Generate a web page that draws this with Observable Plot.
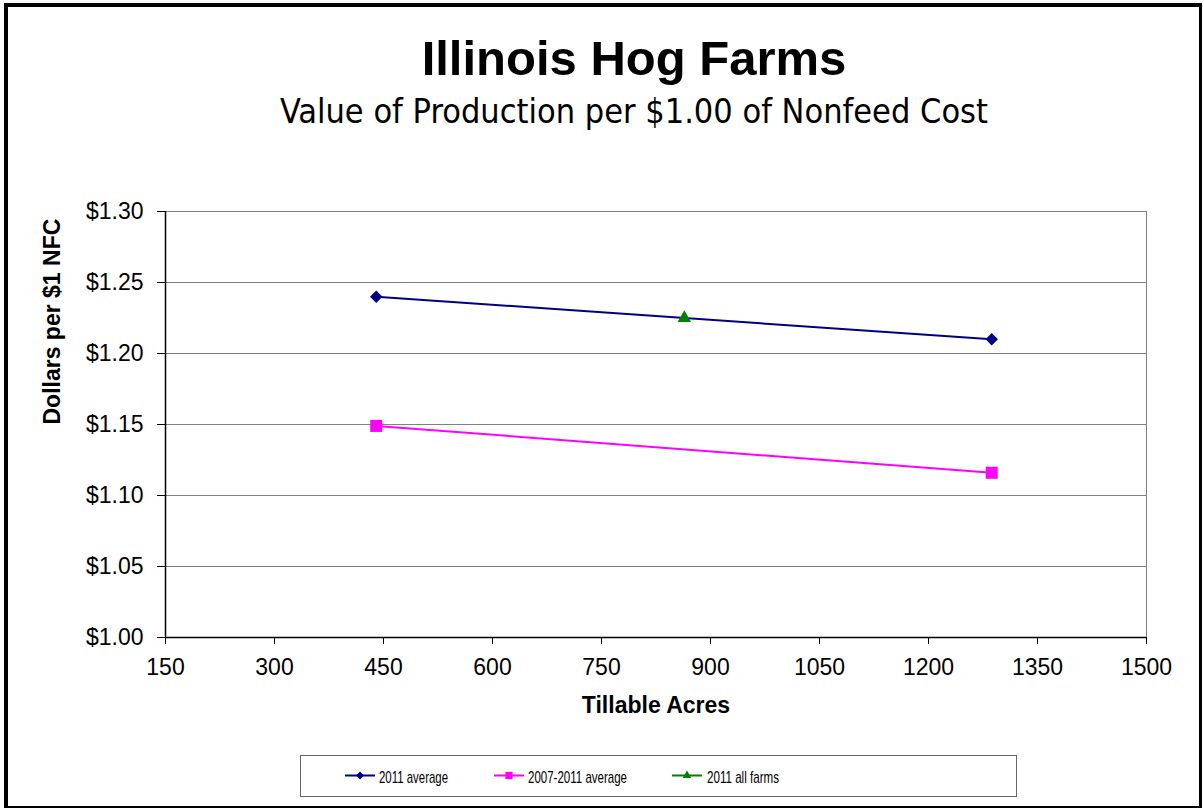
<!DOCTYPE html>
<html><head><meta charset="utf-8">
<script src="https://cdn.jsdelivr.net/npm/d3@7"></script>
<script src="https://cdn.jsdelivr.net/npm/@observablehq/plot@0.6"></script>
<style>
body{margin:0;background:#fff;}
#wrap{position:relative;width:1203px;height:808px;overflow:hidden;background:#fff;font-family:"Liberation Sans",Arial,sans-serif;}
#wrap > svg{position:absolute;left:0;top:0;}
#frame{position:absolute;left:4px;top:3px;width:1198px;height:805px;box-sizing:border-box;border-style:solid;border-color:#000;border-width:4px 3px 2px 4px;pointer-events:none;}
</style></head>
<body>
<div id="wrap"><div id="frame"></div></div>
<script>
const title = "Illinois Hog Farms";
const subtitle = "Value of Production per $1.00 of Nonfeed Cost";
const xLabel = "Tillable Acres";
const yLabel = "Dollars per $1 NFC";

const seriesNames = ["2011 average", "2007-2011 average", "2011 all farms"];
const seriesColors = ["#000080", "#FF00FF", "#008000"];

const acres2011 = [440, 1287];
const value2011 = [1.240, 1.210];
const acres0711 = [440, 1287];
const value0711 = [1.149, 1.116];
const acresAll = [864];
const valueAll = [1.225];

const xTicks = [150, 300, 450, 600, 750, 900, 1050, 1200, 1350, 1500];
const yTicks = [1.00, 1.05, 1.10, 1.15, 1.20, 1.25, 1.30];

const toRows = (xs, ys) => xs.map((a, i) => ({acres: a, value: ys[i]}));
const s2011 = toRows(acres2011, value2011);
const s0711 = toRows(acres0711, value0711);
const sAll = toRows(acresAll, valueAll);

const chart = Plot.plot({
  width: 1203, height: 808,
  marginLeft: 165, marginRight: 57, marginTop: 211, marginBottom: 171,
  style: {fontFamily: "Liberation Sans, Arial, sans-serif", fontSize: "23px", color: "#000", background: "transparent"},
  x: {domain: [150, 1500]},
  y: {domain: [1.0, 1.3]},
  marks: [
    Plot.gridY(yTicks.slice(1), {stroke: "#808080", strokeOpacity: 1, strokeWidth: 1}),
    Plot.ruleX([1500], {stroke: "#808080", strokeWidth: 1}),
    Plot.axisY(yTicks, {tickSize: 8, tickPadding: 14, tickFormat: d => "$" + d.toFixed(2), fontSize: 23, label: null, stroke: "#000"}),
    Plot.axisX(xTicks, {tickSize: 7, tickPadding: 14, tickFormat: d => String(d), fontSize: 23, label: null, stroke: "#000"}),
    Plot.ruleX([150], {stroke: "#000", strokeWidth: 1.5}),
    Plot.ruleY([1.0], {stroke: "#000", strokeWidth: 1.5}),
    Plot.text([yLabel], {frameAnchor: "left", dx: -113, rotate: -90, fontWeight: "bold", fontSize: 23}),
    Plot.text([xLabel], {frameAnchor: "bottom", dy: 75, fontWeight: "bold", fontSize: 23}),
    Plot.line(s2011, {x: "acres", y: "value", stroke: seriesColors[0], strokeWidth: 2}),
    Plot.line(s0711, {x: "acres", y: "value", stroke: seriesColors[1], strokeWidth: 2}),
    Plot.dot(s2011, {x: "acres", y: "value", symbol: "diamond2", fill: seriesColors[0], stroke: "none", r: 5.6}),
    Plot.dot(s0711, {x: "acres", y: "value", symbol: "square", fill: seriesColors[1], stroke: "none", r: 6.8}),
    Plot.dot(sAll, {x: "acres", y: "value", symbol: "triangle", fill: seriesColors[2], stroke: "none", r: 5})
  ]
});
const wrap = document.getElementById("wrap");
wrap.insertBefore(chart, document.getElementById("frame"));

// Overlay: title, subtitle, legend
const ns = "http://www.w3.org/2000/svg";
const ov = d3.create("svg").attr("width", 1203).attr("height", 808).attr("xmlns", ns)
  .style("font-family", "Liberation Sans, Arial, sans-serif");
ov.append("text").attr("x", 634).attr("y", 75).attr("text-anchor", "middle")
  .attr("font-size", 49).attr("font-weight", "bold").text(title);
ov.append("text").attr("x", 634).attr("y", 123).attr("text-anchor", "middle")
  .attr("font-family", "DejaVu Sans Condensed, DejaVu Sans, sans-serif").attr("font-stretch", "condensed")
  .attr("font-size", 33).attr("textLength", 708).attr("lengthAdjust", "spacingAndGlyphs").text(subtitle);

const lg = ov.append("g");
lg.append("rect").attr("x", 300.5).attr("y", 755.5).attr("width", 716).attr("height", 41)
  .attr("fill", "#fff").attr("stroke", "#666");
const lineStarts = [345, 494, 672];
const textStarts = [379, 528, 707];
const textLens = [69, 99, 72];
const symbols = [d3.symbolDiamond2, d3.symbolSquare, d3.symbolTriangle];
const symSizes = [40, 52, 32];
seriesNames.forEach((name, i) => {
  const x0 = lineStarts[i];
  lg.append("line").attr("x1", x0).attr("x2", x0 + 30).attr("y1", 775.5).attr("y2", 775.5)
    .attr("stroke", seriesColors[i]).attr("stroke-width", 2);
  lg.append("path").attr("d", d3.symbol(symbols[i], symSizes[i])())
    .attr("transform", `translate(${x0 + 15},775.5)`).attr("fill", seriesColors[i]);
  lg.append("text").attr("x", textStarts[i]).attr("y", 782.5).attr("font-size", 17)
    .attr("textLength", textLens[i]).attr("lengthAdjust", "spacingAndGlyphs").text(name);
});
wrap.insertBefore(ov.node(), document.getElementById("frame"));
</script>
</body></html>
